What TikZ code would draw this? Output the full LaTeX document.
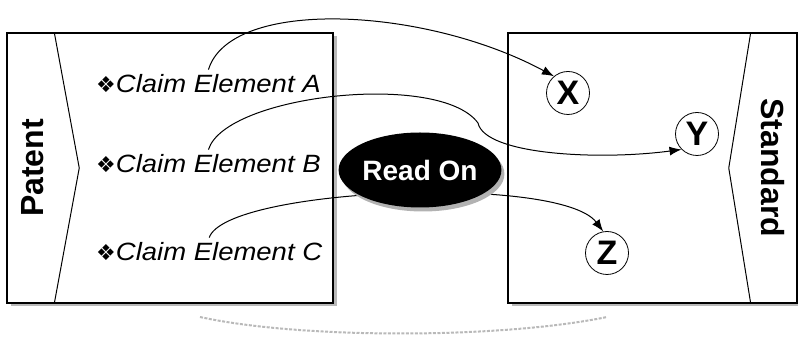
\documentclass[tikz,border=0pt]{standalone}
\usepackage{fontspec}
\setmainfont{Liberation Sans}
\newfontfamily\claimfont[FakeStretch=1.1]{Liberation Sans}
\newfontfamily\dingfont{DejaVu Sans}
\usetikzlibrary{positioning, arrows.meta, shapes.geometric, shadows, calc}

\newcommand{\claimitem}[1]{{\dingfont\fontsize{22}{24}\selectfont ❖}{\claimfont\itshape #1}}

\begin{document}
\begin{tikzpicture}[
			x=1pt, y=1pt,
			panel/.style={rectangle, draw, line width=1.5pt, fill=white, minimum height=270pt, inner sep=0pt,
				drop shadow={shadow xshift=4pt, shadow yshift=-3pt, fill=gray!55, opacity=1}},
			divider/.style={line width=1pt},
			claim/.style={inner xsep=1pt, inner ysep=5pt, font=\fontsize{25}{27}\selectfont},
			side/.style={font=\bfseries\fontsize{32}{34}\selectfont},
			target/.style={circle, draw, line width=0.8pt, minimum size=43pt, inner sep=0pt, font=\bfseries\fontsize{34}{36}\selectfont},
			readon/.style={ellipse, fill=black, text=white, minimum width=154pt, minimum height=75pt, inner sep=0pt,
				font=\bfseries\fontsize{28}{30}\selectfont,
				drop shadow={shadow xshift=3pt, shadow yshift=-4pt, fill=gray!60, opacity=1}},
			link/.style={line width=1pt, -{Latex[length=12pt, width=9pt]}},
			floor/.style={gray!55, line width=2pt, dash pattern=on 3pt off 1.5pt}
			]
			\useasboundingbox (0,0) rectangle (798,345);
			
			% Panels
			\node[panel, minimum width=326pt] (patbox) at (170,177) {};
			\node[panel, minimum width=289pt] (stdbox) at (652.5,177) {};
			\draw[divider] ($(patbox.north west)+(48,0)$) -- ($(patbox.west)+(73,0)$) -- ($(patbox.south west)+(48,0)$);
			\draw[divider] ($(stdbox.north east)+(-47,0)$) -- ($(stdbox.east)+(-69,0)$) -- ($(stdbox.south east)+(-47,0)$);
			\node[side, rotate=90] (pattxt) at (33,177) {Patent};
			\node[side, rotate=-90] (stdtxt) at (773,177) {Standard};
			
			% Claims and targets
			\node[claim, anchor=west] (ca) at (95,261) {\claimitem{Claim Element A}};
			\node[claim, below=80pt of ca.west, anchor=west] (cb) {\claimitem{Claim Element B}};
			\node[claim, below=88pt of cb.west, anchor=west] (cc) {\claimitem{Claim Element C}};
			
			\node[target] (X) at (568,252) {X};
			\node[target] (Y) at (697,211) {Y};
			\node[target] (Z) at (607,92) {Z};
			\coordinate (bturn) at (478,222);
			
			% Arrows
			\draw[link] (ca.north) .. controls +(22,72) and +(-130,70) .. (X.130);
			\draw[link] (cb.north) .. controls +(17,55) and +(-38,52) .. (bturn)
				.. controls +(7,-32) and +(-82,-11) .. (Y.225);
			\draw[link] (cc.north) .. controls +(17,50) and +(-43,57) .. (Z.100);
			
			% Read On
			\node[readon] (readon) at (420,175) {Read On};
			
			% Floor
			\coordinate (arcl) at (200,28);
			\coordinate (arcr) at (607,28);
			\draw[floor] (arcl) .. controls +(100,-22) and +(-107,-22) .. (arcr);
			
		\end{tikzpicture}
\end{document}
